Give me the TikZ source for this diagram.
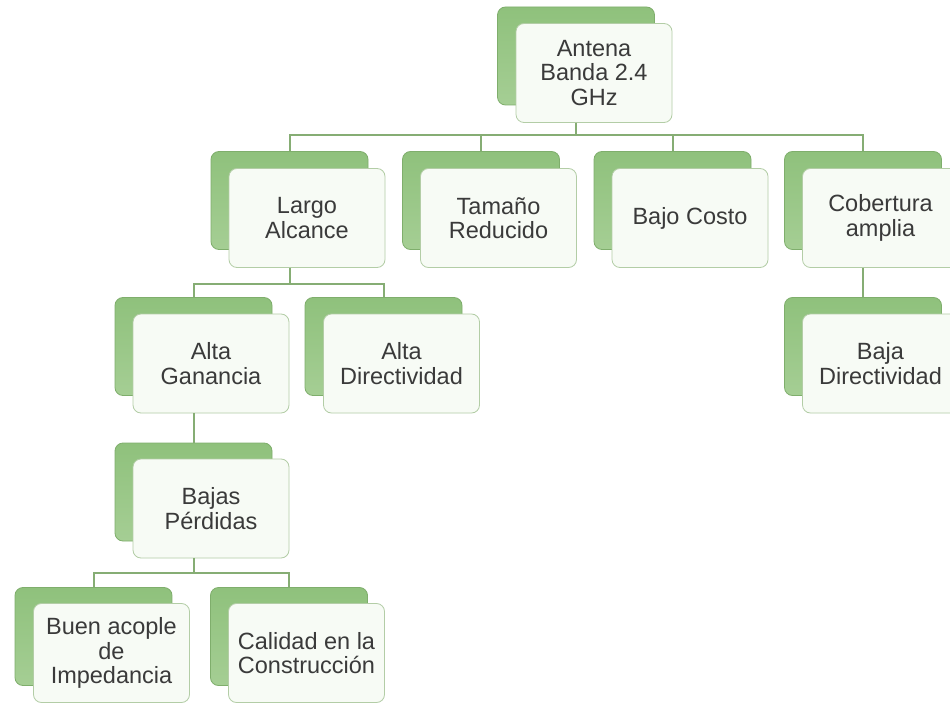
\documentclass[tikz,border=0pt]{standalone}
\usepackage{fontspec}
\setmainfont{Liberation Sans}
\definecolor{backfill}{HTML}{A5CE94}
\definecolor{backtop}{HTML}{8FC17C}
\definecolor{backdraw}{HTML}{7FAE6C}
\definecolor{frontfill}{HTML}{F7FBF5}
\definecolor{frontdraw}{HTML}{B3CDA6}
\definecolor{conncol}{HTML}{86AD74}
\definecolor{txtcol}{HTML}{3A3A3A}
\begin{document}
\begin{tikzpicture}[x=1pt,y=-1pt,
  backbox/.style={draw=backdraw, line width=0.8pt, top color=backtop, bottom color=backfill,
    rounded corners=8pt, minimum width=157pt, minimum height=98pt, inner sep=0pt},
  frontbox/.style={draw=frontdraw, line width=0.8pt, fill=frontfill, rounded corners=8pt,
    minimum width=156pt, minimum height=99pt, inner sep=0pt, align=center,
    text=txtcol, font=\fontsize{23.5}{24.5}\selectfont},
  conn/.style={draw=conncol, line width=2pt}]
\useasboundingbox (0,0) rectangle (950,703);
\clip (0,0) rectangle (950,703);
\fill[white] (0,0) rectangle (950,703);

% top
\node[backbox] (antB) at (576,56) {};
\node[frontbox] (ant) at (594,73) {Antena\\Banda 2.4\\GHz};

% level 2
\node[backbox] (larB) at (289.5,200.5) {};
\node[frontbox] (lar) at (307,218) {Largo\\Alcance};
\node[backbox] (tamB) at (481,200.5) {};
\node[frontbox] (tam) at (498.5,218) {Tamaño\\Reducido};
\node[backbox] (bajB) at (672.5,200.5) {};
\node[frontbox] (baj) at (690,218) {Bajo Costo};
\node[backbox] (cobB) at (863,200.5) {};
\node[frontbox] (cob) at (880.5,218) {Cobertura\\amplia};

% level 3
\node[backbox] (agB) at (193.5,346.5) {};
\node[frontbox] (ag) at (211,363.5) {Alta\\Ganancia};
\node[backbox] (adB) at (383.5,346.5) {};
\node[frontbox] (ad) at (401.5,363.5) {Alta\\Directividad};
\node[backbox] (bdB) at (863,346.5) {};
\node[frontbox] (bd) at (880.5,363.5) {Baja\\Directividad};

% level 4
\node[backbox] (bpB) at (193.5,492) {};
\node[frontbox] (bp) at (211,508.5) {Bajas\\Pérdidas};

% level 5
\node[backbox] (buB) at (93.5,636.5) {};
\node[frontbox] (bu) at (111.5,653) {Buen acople\\de\\Impedancia};
\node[backbox] (caB) at (289,636.5) {};
\node[frontbox] (ca) at (306.5,653) {Calidad en la\\Construcción};

% connectors
\foreach \c in {larB,tamB,bajB,cobB}
  \draw[conn] (antB.center |- ant.south) -- ++(0,12) -| (\c.north);
\foreach \c in {agB,adB}
  \draw[conn] (larB.center |- lar.south) -- ++(0,16) -| (\c.north);
\draw[conn] (cobB.center |- cob.south) -- (bdB.north);
\draw[conn] (agB.center |- ag.south) -- (bpB.north);
\foreach \c in {buB,caB}
  \draw[conn] (bpB.center |- bp.south) -- ++(0,15) -| (\c.north);
\end{tikzpicture}
\end{document}
